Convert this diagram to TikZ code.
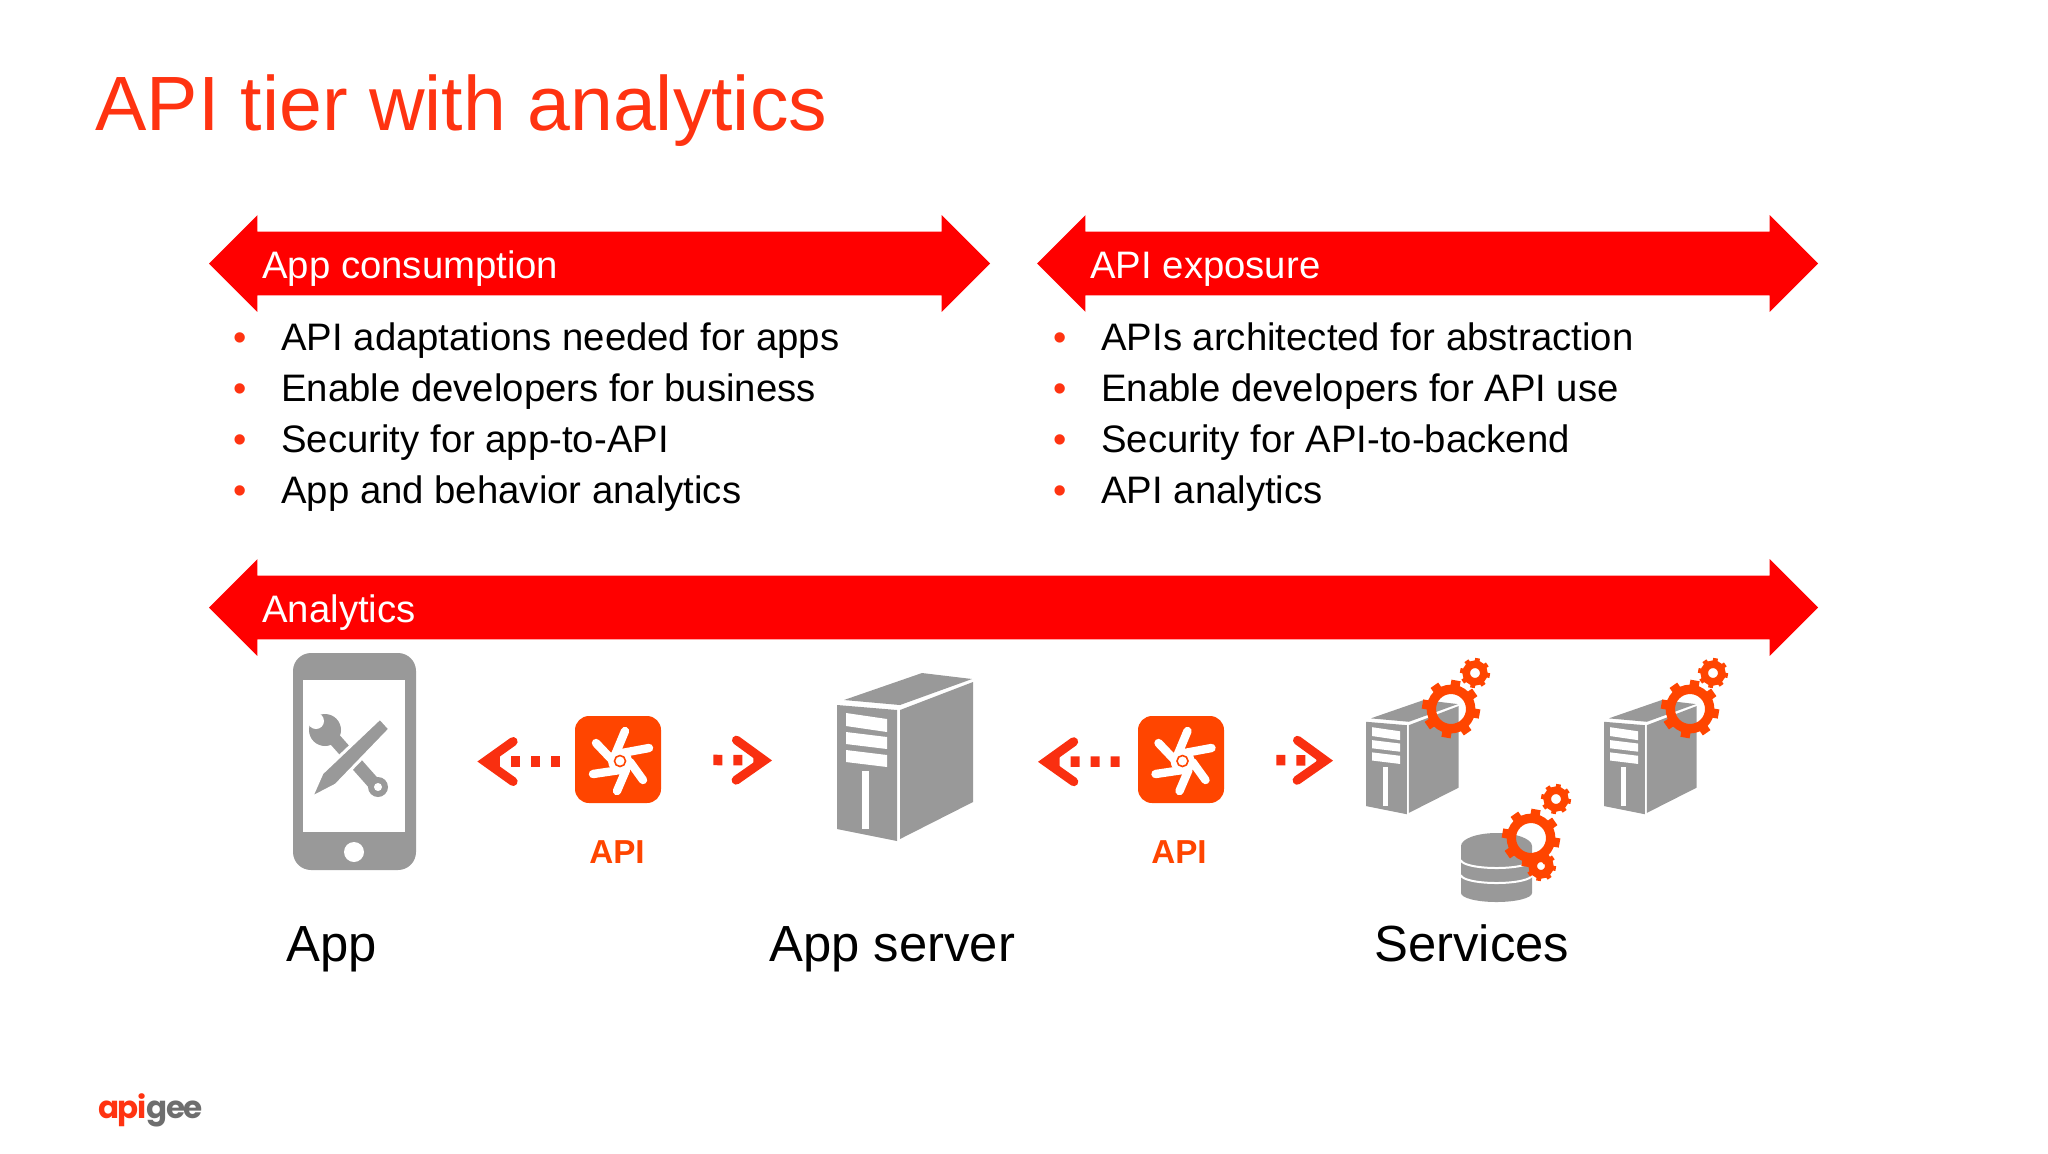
\documentclass[tikz,border=0pt]{standalone}
\usepackage{fontspec}
\setmainfont{Liberation Sans}
\newfontfamily\logofont{Poppins}[LetterSpace=-5]
\usetikzlibrary{arrows.meta,shapes.arrows,positioning}
\definecolor{titlered}{HTML}{FF3311}
\definecolor{bandred}{HTML}{FF0000}
\definecolor{apiorange}{HTML}{FF4500}
\definecolor{linkred}{HTML}{F92F10}
\definecolor{boxgray}{HTML}{999999}
\definecolor{logogray}{HTML}{6E6E6E}
\tikzset{
  bandarrow/.style={shape=double arrow,fill=bandred,double arrow head extend=8.25pt,
    inner xsep=0pt,inner ysep=15.75pt,outer sep=0pt,minimum height=#1},
  bandlabel/.style={anchor=base west,inner sep=0pt,text=white,font=\fontsize{19.15}{22}\selectfont},
  itemtext/.style={anchor=base west,inner sep=0pt,font=\fontsize{19.15}{22}\selectfont},
  dotmark/.style={anchor=base,inner sep=0pt,text=titlered,font=\fontsize{19}{22}\selectfont},
  apibox/.style={fill=apiorange,rounded corners=7pt,minimum width=43pt,minimum height=43.5pt,inner sep=0pt},
  apilabel/.style={anchor=base,inner sep=0pt,text=apiorange,font=\fontsize{16.6}{18}\selectfont\bfseries},
  tierlabel/.style={anchor=base west,inner sep=0pt,font=\fontsize{25.4}{28}\selectfont},
  dashlink/.style={draw=linkred,line width=5.25pt,dash pattern=on 4.5pt off 5.5pt,
    -{Straight Barb[length=14pt,width=20pt,line width=4.5pt,line cap=round,line join=miter]}},
  servertower/.pic={
    \fill[boxgray] (7,27) -- (85,0) -- (135,6) -- (63,32) -- cycle;
    \fill[boxgray] (0,32) -- (60,37) -- (60,168) -- (0,156) -- cycle;
    \fill[boxgray] (63,37) -- (136,9) -- (136,129) -- (63,166) -- cycle;
    \fill[white] (9,40) -- (50,46) -- (50,59) -- (9,53) -- cycle;
    \fill[white] (9,59) -- (50,64) -- (50,76) -- (9,71) -- cycle;
    \fill[white] (9,77) -- (50,82) -- (50,94) -- (9,89) -- cycle;
    \fill[white] (25,98) rectangle (32,156);
  },
  apistar/.pic={
    \draw[white,line width=4.2pt,line cap=round]
      (5,-30) -- (-5,-6)  (29,-13) -- (2,-8)  (23,19) -- (10,1)
      (-3,30) -- (6,9)  (-27,13) -- (0,9)  (-24,-18) -- (-5,2);
    \fill[white] (0,0) circle (12);
    \draw[apiorange,line width=.8pt] (0,0) circle (5.5);
  }
}
% x y outer-radius hole-radius
\newcommand{\gearwheel}[4]{
  \draw[apiorange,line width={(0.84*#3-#4)*0.5pt}] (#1,#2) circle ({(0.84*#3+#4)/2});
  \foreach \a in {0,45,...,315}
    \draw[apiorange,line width={0.16*#3*1pt}] (#1,#2) ++(\a+10:{0.7*#3}) -- ++(\a+10:{0.3*#3});
}
\begin{document}
\begin{tikzpicture}[x=.5pt,y=-.5pt]
\useasboundingbox (0,0) rectangle (2048,1153);
\node[anchor=base west,inner sep=0pt,text=titlered,font=\fontsize{38.5}{44}\selectfont] (title) at (95,130) {API tier with analytics};

% bands
\node[bandarrow=390.5pt] (consume) at (599.5,263.5) {};
\node[bandarrow=390.5pt] (expose) at (1427.5,263.5) {};
\node[bandarrow=804.5pt] (analytics) at (1013.5,607.5) {};
\node[bandlabel] (consumelabel) at (262,278) {App consumption};
\node[bandlabel] (exposelabel) at (1090,278) {API exposure};
\node[bandlabel] (analyticslabel) at (262,622) {Analytics};

% lists
\foreach \y/\t in {350/API adaptations needed for apps,401/Enable developers for business,452/Security for app-to-API,503/App and behavior analytics}{
  \node[dotmark] (leftdot\y) at (240,\y) {•};
  \node[itemtext] (leftitem\y) at (281,\y) {\t};
}
\foreach \y/\t in {350/APIs architected for abstraction,401/Enable developers for API use,452/Security for API-to-backend,503/API analytics}{
  \node[dotmark] (rightdot\y) at (1060,\y) {•};
  \node[itemtext] (rightitem\y) at (1101,\y) {\t};
}

% phone
\node[fill=boxgray,rounded corners=9pt,minimum width=61.5pt,minimum height=108.5pt,inner sep=0pt] (phone) at (354.5,761.5) {};
\node[fill=white,minimum width=51pt,minimum height=76pt,inner sep=0pt] (screen) at (354,756) {};
\node[fill=white,circle,minimum size=10pt,inner sep=0pt] (homekey) at (354,852) {};
\draw[boxgray,line width=6.5pt] (330,734) -- (377,787);
\fill[boxgray] (325,730) circle (16);
\fill[white] (316,721) circle (8);
\fill[boxgray] (378,787) circle (10);
\fill[white] (378,787) circle (4);
\filldraw[boxgray,draw=white,line width=1.5pt,line join=miter] (380,718) -- (390,729) -- (336,785) -- (311,798) -- (322,773) -- cycle;

% servers and gears
\pic at (837,673) {servertower};
\coordinate (server) at (837,761);
\pic[scale=.68] at (1366,700) {servertower};
\coordinate (servicea) at (1366,761);
\pic[scale=.68] at (1604,700) {servertower};
\gearwheel{1451}{709}{29}{15}
\gearwheel{1475}{673}{15}{5}
\gearwheel{1690}{709}{29}{15}
\gearwheel{1713}{673}{15}{5}

% database
\fill[boxgray] (1461,846) arc (180:360:35.5 and 13) -- (1532,893) arc (0:180:35.5 and 9) -- cycle;
\draw[white,line width=1pt] (1461,860) arc (180:0:35.5 and 8);
\draw[white,line width=1pt] (1461,875) arc (180:0:35.5 and 8);
\gearwheel{1541}{866}{15}{4}
\gearwheel{1531}{838}{29}{15}
\gearwheel{1556}{799}{15}{5}

% api boxes
\node[apibox] (apileft) at (618,759.5) {};
\node[apibox] (apiright) at (1181,759.5) {};
\pic at (620,761) {apistar};
\pic at (1182.5,761) {apistar};
\node[apilabel] (apilefttext) at (617,863) {API};
\node[apilabel] (apirighttext) at (1179,863) {API};

% connectors
\draw[dashlink,shorten <=7.5pt,shorten >=30.5pt] ([yshift=-1pt]apileft.west) -- (phone.east);
\draw[dashlink,shorten <=26pt,shorten >=32.5pt] (apileft.east) -- (server);
\draw[dashlink,shorten <=9pt,shorten >=32.5pt] ([yshift=-1pt]apiright.west) -- (973,762);
\draw[dashlink,shorten <=26pt,shorten >=16.5pt] (apiright.east) -- (servicea);

% tier names
\node[tierlabel] (applabel) at (286,961) {App};
\node[tierlabel] (serverlabel) at (769,961) {App server};
\node[tierlabel] (serviceslabel) at (1374,961) {Services};

\node[anchor=base west,inner sep=0pt,font=\fontsize{15.5}{18}\logofont\bfseries] (logo) at (98,1118) {\textcolor{titlered}{api}\textcolor{logogray}{gee}};
\end{tikzpicture}
\end{document}
